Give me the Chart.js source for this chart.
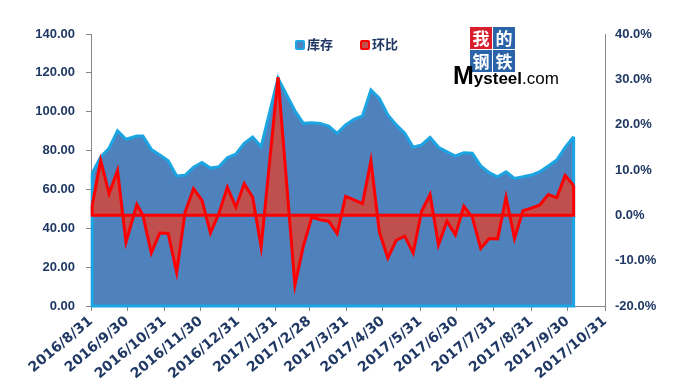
<!DOCTYPE html>
<html>
<head>
<meta charset="utf-8">
<script src="https://cdn.jsdelivr.net/npm/chart.js@4/dist/chart.umd.min.js"></script>
<style>
  html, body { margin: 0; padding: 0; background: #fff; }
  #wrap { position: relative; width: 685px; height: 386px; }
  #legend { position: absolute; top: 35px; left: 295px; font: bold 13px "Noto Sans CJK SC", sans-serif; color: #1F3864; }
  #legend .item { position: absolute; top: 0; white-space: nowrap; line-height: 17px; }
  #legend .box { display: inline-block; width: 6px; height: 6px; border-radius: 2px; border: 2px solid; vertical-align: -1px; margin-right: 2px; }
  .logo { position: absolute; left: 470px; top: 27px; }
  .logo .cell { position: absolute; width: 22px; height: 22px; color: #fff; font: bold 17px/22px "Noto Sans CJK SC", sans-serif; text-align: center; }
  .brand { position: absolute; left: 453px; top: 62px; font-family: "Liberation Sans", Arial, sans-serif; color: #000; white-space: nowrap; line-height: 26px; }
  .brand .m { font-weight: bold; font-size: 25px; }
  .brand .s { font-weight: bold; font-size: 17px; }
  .brand .c { font-size: 17px; }
</style>
</head>
<body>
<div id="wrap">
  <canvas id="chart"></canvas>
  <div id="legend"></div>
  <div class="logo">
    <div class="cell" style="left:0;top:0;background:#D81E2C">我</div>
    <div class="cell" style="left:23px;top:0;background:#2B63A9">的</div>
    <div class="cell" style="left:0;top:23px;background:#2B63A9">钢</div>
    <div class="cell" style="left:23px;top:23px;background:#2B63A9">铁</div>
  </div>
  <div class="brand"><span class="m">M</span><span class="s">ysteel</span><span class="c">.com</span></div>
</div>
<script>
// weekly dates (holiday weeks missing in the source)
const dates = [
  '2016/9/1', '2016/9/8', '2016/9/15', '2016/9/22', '2016/9/29', '2016/10/8', '2016/10/13',
  '2016/10/20', '2016/10/27', '2016/11/3', '2016/11/10', '2016/11/17', '2016/11/24', '2016/12/1',
  '2016/12/8', '2016/12/15', '2016/12/22', '2016/12/29', '2017/1/5', '2017/1/12', '2017/1/19',
  '2017/2/2', '2017/2/16', '2017/2/23', '2017/3/2', '2017/3/9', '2017/3/16', '2017/3/23',
  '2017/3/30', '2017/4/6', '2017/4/13', '2017/4/20', '2017/4/27', '2017/5/4', '2017/5/11',
  '2017/5/18', '2017/5/25', '2017/6/1', '2017/6/8', '2017/6/15', '2017/6/22', '2017/6/29',
  '2017/7/6', '2017/7/13', '2017/7/20', '2017/7/27', '2017/8/3', '2017/8/10', '2017/8/17',
  '2017/8/24', '2017/8/31', '2017/9/7', '2017/9/14', '2017/9/21', '2017/9/28', '2017/10/5'
];

// 库存
const stock = [
  68.3, 76.8, 81.2, 90.2, 85.8, 87.5, 87.5,
  80.6, 77.7, 74.8, 66.9, 67.3, 71.4, 73.8,
  71.0, 71.7, 76.3, 78.2, 83.7, 87.0, 82.0,
  117.2, 100.5, 94.0, 94.3, 94.0, 92.6, 88.9,
  93.2, 96.1, 97.8, 111.2, 106.9, 98.3, 93.2,
  88.9, 81.7, 82.9, 86.8, 81.7, 79.4, 77.2,
  78.9, 78.6, 72.1, 68.6, 66.5, 69.1, 65.7,
  66.5, 67.4, 69.1, 72.1, 75.1, 81.7, 87.1
];

// 环比 (%)
const ratio = [
  2.2, 12.1, 4.8, 9.9, -5.9, 2.4, 0.0,
  -8.3, -3.9, -4.0, -12.6, 0.7, 5.9, 3.3,
  -3.9, 0.4, 6.2, 1.8, 7.0, 4.0, -7.0,
  30.5, -15.4, -6.8, -0.4, -1.0, -1.3, -4.0,
  4.2, 3.4, 2.6, 12.0, -3.7, -9.4, -5.5,
  -4.6, -8.3, 0.9, 4.6, -6.5, -1.3, -4.3,
  2.0, -0.4, -7.3, -5.1, -5.2, 4.0, -5.1,
  1.0, 1.6, 2.3, 4.6, 3.9, 8.8, 6.6
];

const tickLabels = [
  '2016/8/31', '2016/9/30', '2016/10/31', '2016/11/30', '2016/12/31', '2017/1/31', '2017/2/28',
  '2017/3/31', '2017/4/30', '2017/5/31', '2017/6/30', '2017/7/31', '2017/8/31', '2017/9/30', '2017/10/31'
];

const seriesNames = ['库存', '环比'];

const navy = '#1F3864';
const axisGray = '#868686';

function dayOf(s) {
  const p = s.split('/').map(Number);
  return Date.UTC(p[0], p[1] - 1, p[2]) / 864e5;
}

const tickDays = tickLabels.map(dayOf);

// closes the area outlines (right edge + base) the way the source chart does
const areaEdges = {
  id: 'areaEdges',
  afterDatasetDraw(chart, args) {
    const pts = args.meta.data;
    if (!pts.length) return;
    const ds = chart.data.datasets[args.index];
    const scale = chart.scales[ds.yAxisID];
    const base = ds.yAxisID === 'y' ? scale.getPixelForValue(scale.min) : scale.getPixelForValue(0);
    const first = pts[0], last = pts[pts.length - 1];
    const ctx = chart.ctx;
    ctx.save();
    ctx.strokeStyle = ds.borderColor;
    ctx.lineWidth = ds.borderWidth;
    ctx.lineJoin = 'miter';
    ctx.beginPath();
    ctx.moveTo(last.x, last.y);
    ctx.lineTo(last.x, base);
    ctx.lineTo(first.x, base);
    ctx.lineTo(first.x, first.y);
    ctx.stroke();
    ctx.restore();
  }
};

const tickFont = { family: '"Liberation Sans", Arial, sans-serif', size: 13, weight: 'bold' };

const chart = new Chart(document.getElementById('chart'), {
  type: 'line',
  data: {
    datasets: [
      {
        label: seriesNames[0],
        data: dates.map((d, i) => ({ x: dayOf(d), y: stock[i] })),
        yAxisID: 'y',
        order: 1,
        borderColor: '#1BA5E2',
        backgroundColor: '#4F81BD',
        borderWidth: 3,
        fill: 'origin',
        tension: 0,
        pointRadius: 0
      },
      {
        label: seriesNames[1],
        data: dates.map((d, i) => ({ x: dayOf(d), y: ratio[i] })),
        yAxisID: 'y1',
        order: 0,
        borderColor: '#FF0000',
        backgroundColor: '#C0504D',
        borderWidth: 3,
        fill: { value: 0 },
        tension: 0,
        pointRadius: 0
      }
    ]
  },
  options: {
    responsive: true,
    maintainAspectRatio: false,
    animation: false,
    layout: { padding: { top: 34, left: 0, right: 0, bottom: 0 } },
    plugins: {
      legend: { display: false },
      tooltip: { enabled: false }
    },
    scales: {
      x: {
        type: 'linear',
        min: tickDays[0],
        max: tickDays[tickDays.length - 1],
        afterBuildTicks: s => { s.ticks = tickDays.map(v => ({ value: v })); },
        afterFit: s => { s.height = 80; },
        border: { color: axisGray, width: 1 },
        grid: { drawOnChartArea: false, color: axisGray, tickLength: 5 },
        ticks: {
          autoSkip: false,
          minRotation: 40,
          maxRotation: 40,
          padding: 2,
          color: navy,
          font: { family: '"DejaVu Sans", sans-serif', size: 14, weight: 'bold' },
          callback: v => tickLabels[tickDays.indexOf(v)]
        }
      },
      y: {
        position: 'left',
        min: 0,
        max: 140,
        afterFit: s => { s.width = 91; },
        border: { color: axisGray, width: 1 },
        grid: { drawOnChartArea: false, color: axisGray, tickLength: 5 },
        ticks: { stepSize: 20, padding: 11, color: navy, font: tickFont, callback: v => v.toFixed(2) }
      },
      y1: {
        position: 'right',
        min: -20,
        max: 40,
        afterFit: s => { s.width = 80; },
        border: { color: axisGray, width: 1 },
        grid: { drawOnChartArea: false, drawTicks: false },
        ticks: { stepSize: 10, padding: 10, color: navy, font: tickFont, callback: v => v.toFixed(1) + '%' }
      }
    }
  },
  plugins: [areaEdges]
});

// legend drawn as html text over the plot, like the source
const legend = document.getElementById('legend');
const legendX = [0, 65];
chart.data.datasets.forEach((ds, i) => {
  const item = document.createElement('span');
  item.className = 'item';
  item.style.left = legendX[i] + 'px';
  item.innerHTML = '<span class="box" style="border-color:' + ds.borderColor + ';background:' + ds.backgroundColor + '"></span>' + ds.label;
  legend.appendChild(item);
});
</script>
</body>
</html>
